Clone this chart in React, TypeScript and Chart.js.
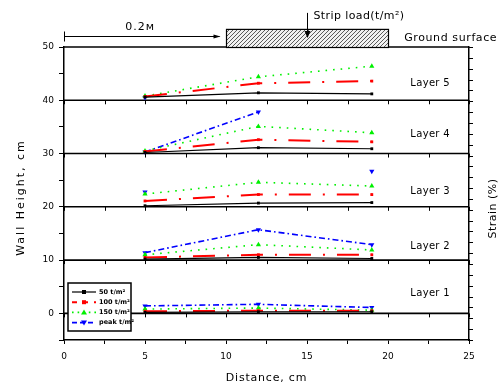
import React, { useEffect, useRef } from "react";
import { Chart, registerables } from "chart.js";

Chart.register(...registerables);

// ---- data ----
const distance = [5, 12, 19];
const seriesLabels = ["50 t/m²", "100 t/m²", "150 t/m²", "peak t/m²"];
const layerNames = ["Layer 1", "Layer 2", "Layer 3", "Layer 4", "Layer 5"];
const layerBase = [0, 10, 20, 30, 40];
const xTickLabels = [0, 5, 10, 15, 20, 25];
const yTickLabels = [0, 10, 20, 30, 40, 50];

// wall height + strain offset, per layer (1..5), at distance 5, 12, 19
const load50 = [
  [0.2, 0.3, 0.3],
  [10.2, 10.5, 10.3],
  [20.2, 20.7, 20.8],
  [30.2, 31.1, 30.9],
  [40.6, 41.4, 41.2],
];
const load100 = [
  [0.4, 0.5, 0.5],
  [10.5, 11.0, 11.0],
  [21.1, 22.3, 22.3],
  [30.4, 32.6, 32.2],
  [40.7, 43.2, 43.6],
];
const load150 = [
  [0.8, 1.0, 0.6],
  [11.0, 12.9, 11.9],
  [22.4, 24.6, 23.9],
  [30.5, 35.1, 33.9],
  [40.8, 44.4, 46.4],
];
const loadPeak = [
  [1.4, 1.7, 1.1],
  [11.4, 15.7, 12.9],
  [22.8, null, 26.7],
  [30.3, 37.8, null],
  [40.5, null, null],
];

const seriesData = [load50, load100, load150, loadPeak];

const FONT = "'DejaVu Sans', sans-serif";

const seriesStyles: any[] = [
  {
    borderColor: "#000000",
    backgroundColor: "#000000",
    borderWidth: 1.2,
    borderDash: [],
    pointStyle: "rect",
    pointRadius: 2,
    pointRotation: 0,
  },
  {
    borderColor: "#ff0000",
    backgroundColor: "#ff0000",
    borderWidth: 2,
    borderDash: [22, 12, 2, 12],
    pointStyle: "rect",
    pointRadius: 2,
    pointRotation: 0,
  },
  {
    borderColor: "#00f000",
    backgroundColor: "#00f000",
    borderWidth: 1.6,
    borderDash: [1.6, 6],
    pointStyle: "triangle",
    pointRadius: 3,
    pointRotation: 0,
  },
  {
    borderColor: "#0000ff",
    backgroundColor: "#0000ff",
    borderWidth: 1.6,
    borderDash: [6, 3, 1.6, 3],
    pointStyle: "triangle",
    pointRadius: 3,
    pointRotation: 180,
  },
];

const drawText = (
  ctx: CanvasRenderingContext2D,
  text: string,
  x: number,
  y: number,
  font: string,
  align: CanvasTextAlign,
  spacing = 0,
  rotate = 0
) => {
  ctx.save();
  ctx.font = font;
  (ctx as any).letterSpacing = spacing + "px";
  ctx.fillStyle = "#000";
  ctx.textBaseline = "middle";
  ctx.translate(x, y);
  if (rotate) ctx.rotate(rotate);
  ctx.textAlign = align;
  ctx.fillText(text, 0, 0);
  ctx.restore();
};

const decorPlugin = {
  id: "decor",
  afterDraw(chart: any) {
    const ctx: CanvasRenderingContext2D = chart.ctx;
    const xs = chart.scales.x;
    const ys = chart.scales.y;
    const y2 = chart.scales.y2;
    const area = chart.chartArea;
    const px = (v: number) => xs.getPixelForValue(v);
    const py = (v: number) => ys.getPixelForValue(v);

    ctx.save();
    ctx.strokeStyle = "#000";
    // top border
    ctx.lineWidth = 1.5;
    ctx.beginPath();
    ctx.moveTo(area.left, area.top);
    ctx.lineTo(area.right, area.top);
    ctx.stroke();

    // right strain axis ticks
    ctx.lineWidth = 1;
    y2.ticks.forEach((t: any) => {
      const y = Math.round(y2.getPixelForValue(t.value)) + 0.5;
      ctx.beginPath();
      ctx.moveTo(area.right, y);
      ctx.lineTo(area.right + 4, y);
      ctx.stroke();
    });

    // ticks on layer boundary lines
    layerBase.forEach((b) => {
      const y = py(b);
      xs.ticks.forEach((t: any) => {
        const x = Math.round(px(t.value)) + 0.5;
        ctx.beginPath();
        ctx.moveTo(x, y);
        ctx.lineTo(x, y + 4);
        ctx.stroke();
      });
    });

    // dimension line "0.2m"
    const dy = Math.round(py(52.1)) + 0.5;
    const x0 = px(0);
    const x1 = px(9.6);
    ctx.lineWidth = 1;
    ctx.beginPath();
    ctx.moveTo(x0, dy);
    ctx.lineTo(x1, dy);
    ctx.moveTo(x0 + 0.5, dy - 5);
    ctx.lineTo(x0 + 0.5, dy + 5);
    ctx.stroke();
    ctx.fillStyle = "#000";
    ctx.beginPath();
    ctx.moveTo(x1 + 1, dy);
    ctx.lineTo(x1 - 6, dy - 2);
    ctx.lineTo(x1 - 6, dy + 2);
    ctx.closePath();
    ctx.fill();
    drawText(ctx, "0.2м", px(4.7), py(53.8), `11px ${FONT}`, "center", 1);

    // hatched strip load
    const rx0 = px(10);
    const rx1 = px(20);
    const ry0 = py(53.4);
    const ry1 = py(50);
    ctx.save();
    ctx.beginPath();
    ctx.rect(rx0, ry0, rx1 - rx0, ry1 - ry0);
    ctx.clip();
    ctx.fillStyle = "#f2f2f2";
    ctx.fillRect(rx0, ry0, rx1 - rx0, ry1 - ry0);
    ctx.strokeStyle = "#333";
    ctx.lineWidth = 0.8;
    for (let x = rx0 - 30; x < rx1 + 30; x += 4) {
      ctx.beginPath();
      ctx.moveTo(x, ry1);
      ctx.lineTo(x + (ry1 - ry0), ry0);
      ctx.stroke();
    }
    ctx.restore();
    ctx.lineWidth = 1.2;
    ctx.strokeStyle = "#000";
    ctx.strokeRect(rx0 + 0.5, ry0 + 0.5, rx1 - rx0, ry1 - ry0);

    // load arrow
    const ax = Math.round(px(15)) + 0.5;
    const ayTop = py(56.4);
    const ayBot = py(51.9);
    ctx.lineWidth = 1;
    ctx.beginPath();
    ctx.moveTo(ax, ayTop);
    ctx.lineTo(ax, ayBot - 4);
    ctx.stroke();
    ctx.beginPath();
    ctx.moveTo(ax, ayBot + 1);
    ctx.lineTo(ax - 3, ayBot - 6);
    ctx.lineTo(ax + 3, ayBot - 6);
    ctx.closePath();
    ctx.fill();
    drawText(ctx, "Strip load(t/m²)", px(15.4), py(55.8), `11px ${FONT}`, "left", 0.4);
    drawText(ctx, "Ground surface", px(21.0), py(51.6), `11px ${FONT}`, "left", 0.6);

    // layer labels
    const layerLabelY = [3.7, 12.5, 22.9, 33.5, 43.1];
    layerNames.forEach((n, i) => {
      drawText(ctx, n, px(22.6), py(layerLabelY[i]), `10px ${FONT}`, "center", 0.3);
    });

    // axis titles
    drawText(ctx, "Wall Height, cm", 21, (area.top + area.bottom) / 2 + 4, `11px ${FONT}`, "center", 2, -Math.PI / 2);
    drawText(ctx, "Strain (%)", 493, (area.top + area.bottom) / 2 + 15, `11px ${FONT}`, "center", 0.5, -Math.PI / 2);
    drawText(ctx, "Distance, cm", (area.left + area.right) / 2, 378, `11px ${FONT}`, "center", 0.8);

    // legend
    const lx = area.left + 4;
    const lw = 63;
    const lh = 48;
    const ly = area.bottom - 9 - lh;
    ctx.fillStyle = "#fff";
    ctx.fillRect(lx, ly, lw, lh);
    ctx.lineWidth = 1.5;
    ctx.strokeStyle = "#000";
    ctx.strokeRect(lx, ly, lw, lh);
    seriesLabels.forEach((lab, i) => {
      const st = seriesStyles[i];
      const yy = ly + 9 + i * 10.2;
      ctx.save();
      ctx.strokeStyle = st.borderColor;
      ctx.lineWidth = st.borderWidth;
      ctx.setLineDash(i === 1 ? [5, 6] : i === 2 ? [1.6, 4] : i === 3 ? [5, 3] : []);
      ctx.beginPath();
      ctx.moveTo(lx + 4, yy);
      ctx.lineTo(lx + 28, yy);
      ctx.stroke();
      ctx.restore();
      ctx.save();
      ctx.fillStyle = st.borderColor;
      const mx = lx + 16;
      if (st.pointStyle === "rect") {
        ctx.fillRect(mx - 2, yy - 2, 4, 4);
      } else {
        const d = st.pointRotation ? -1 : 1;
        ctx.beginPath();
        ctx.moveTo(mx, yy - 3 * d);
        ctx.lineTo(mx - 3, yy + 2 * d);
        ctx.lineTo(mx + 3, yy + 2 * d);
        ctx.closePath();
        ctx.fill();
      }
      ctx.restore();
      drawText(ctx, lab, lx + 31, yy, `bold 6.5px ${FONT}`, "left", 0);
    });

    ctx.restore();
  },
};

export default function App() {
  const canvasRef = useRef<HTMLCanvasElement | null>(null);

  useEffect(() => {
    if (!canvasRef.current) return;
    const datasets: any[] = [];
    seriesData.forEach((arr, s) => {
      arr.forEach((layer, l) => {
        datasets.push({
          label: seriesLabels[s] + " " + layerNames[l],
          data: distance.map((x, i) => ({ x, y: layer[i] })),
          ...seriesStyles[s],
          pointBackgroundColor: seriesStyles[s].borderColor,
          pointBorderColor: seriesStyles[s].borderColor,
          pointBorderWidth: 0,
          showLine: true,
          spanGaps: false,
          fill: false,
          tension: 0,
        });
      });
    });
    layerBase.forEach((b) => {
      datasets.push({
        label: "boundary " + b,
        data: [
          { x: xTickLabels[0], y: b },
          { x: xTickLabels[xTickLabels.length - 1], y: b },
        ],
        borderColor: "#000",
        borderWidth: 1.6,
        pointRadius: 0,
        showLine: true,
      });
    });

    const chart = new Chart(canvasRef.current, {
      type: "scatter",
      data: { datasets },
      options: {
        animation: false,
        responsive: false,
        devicePixelRatio: 1,
        layout: { padding: { top: 47, left: 0, right: 0, bottom: 0 } },
        plugins: {
          legend: { display: false },
          tooltip: { enabled: false },
        },
        scales: {
          x: {
            type: "linear",
            min: xTickLabels[0],
            max: xTickLabels[xTickLabels.length - 1],
            afterFit: (s: any) => {
              s.height = 47;
            },
            ticks: {
              stepSize: 2.5,
              autoSkip: false,
              maxRotation: 0,
              padding: 7,
              color: "#000",
              font: { family: FONT, size: 9 },
              callback: (v: any) => (xTickLabels.includes(v) ? String(v) : ""),
            },
            grid: { drawOnChartArea: false, drawTicks: true, tickLength: 4, color: "#000", lineWidth: 1 },
            border: { display: true, color: "#000", width: 1.5 },
          },
          y: {
            type: "linear",
            min: -5,
            max: 50,
            afterFit: (s: any) => {
              s.width = 64;
            },
            ticks: {
              stepSize: 5,
              autoSkip: false,
              padding: 5,
              color: "#000",
              font: { family: FONT, size: 9 },
              callback: (v: any) => (yTickLabels.includes(v) ? String(v) : ""),
            },
            grid: { drawOnChartArea: false, drawTicks: true, tickLength: 5, color: "#000", lineWidth: 1 },
            border: { display: true, color: "#000", width: 1.5 },
          },
          y2: {
            type: "linear",
            position: "right",
            min: -4,
            max: 50,
            afterFit: (s: any) => {
              s.width = 32;
            },
            ticks: {
              stepSize: 2,
              autoSkip: false,
              display: false,
            },
            grid: { display: false },
            border: { display: true, color: "#000", width: 1.5 },
          },
        },
      },
      plugins: [decorPlugin],
    });
    return () => chart.destroy();
  }, []);

  return (
    <div style={{ position: "absolute", left: 0, top: 0, width: 501, height: 387, background: "#fff" }}>
      <canvas ref={canvasRef} width={501} height={387} style={{ width: 501, height: 387 }} />
    </div>
  );
}
